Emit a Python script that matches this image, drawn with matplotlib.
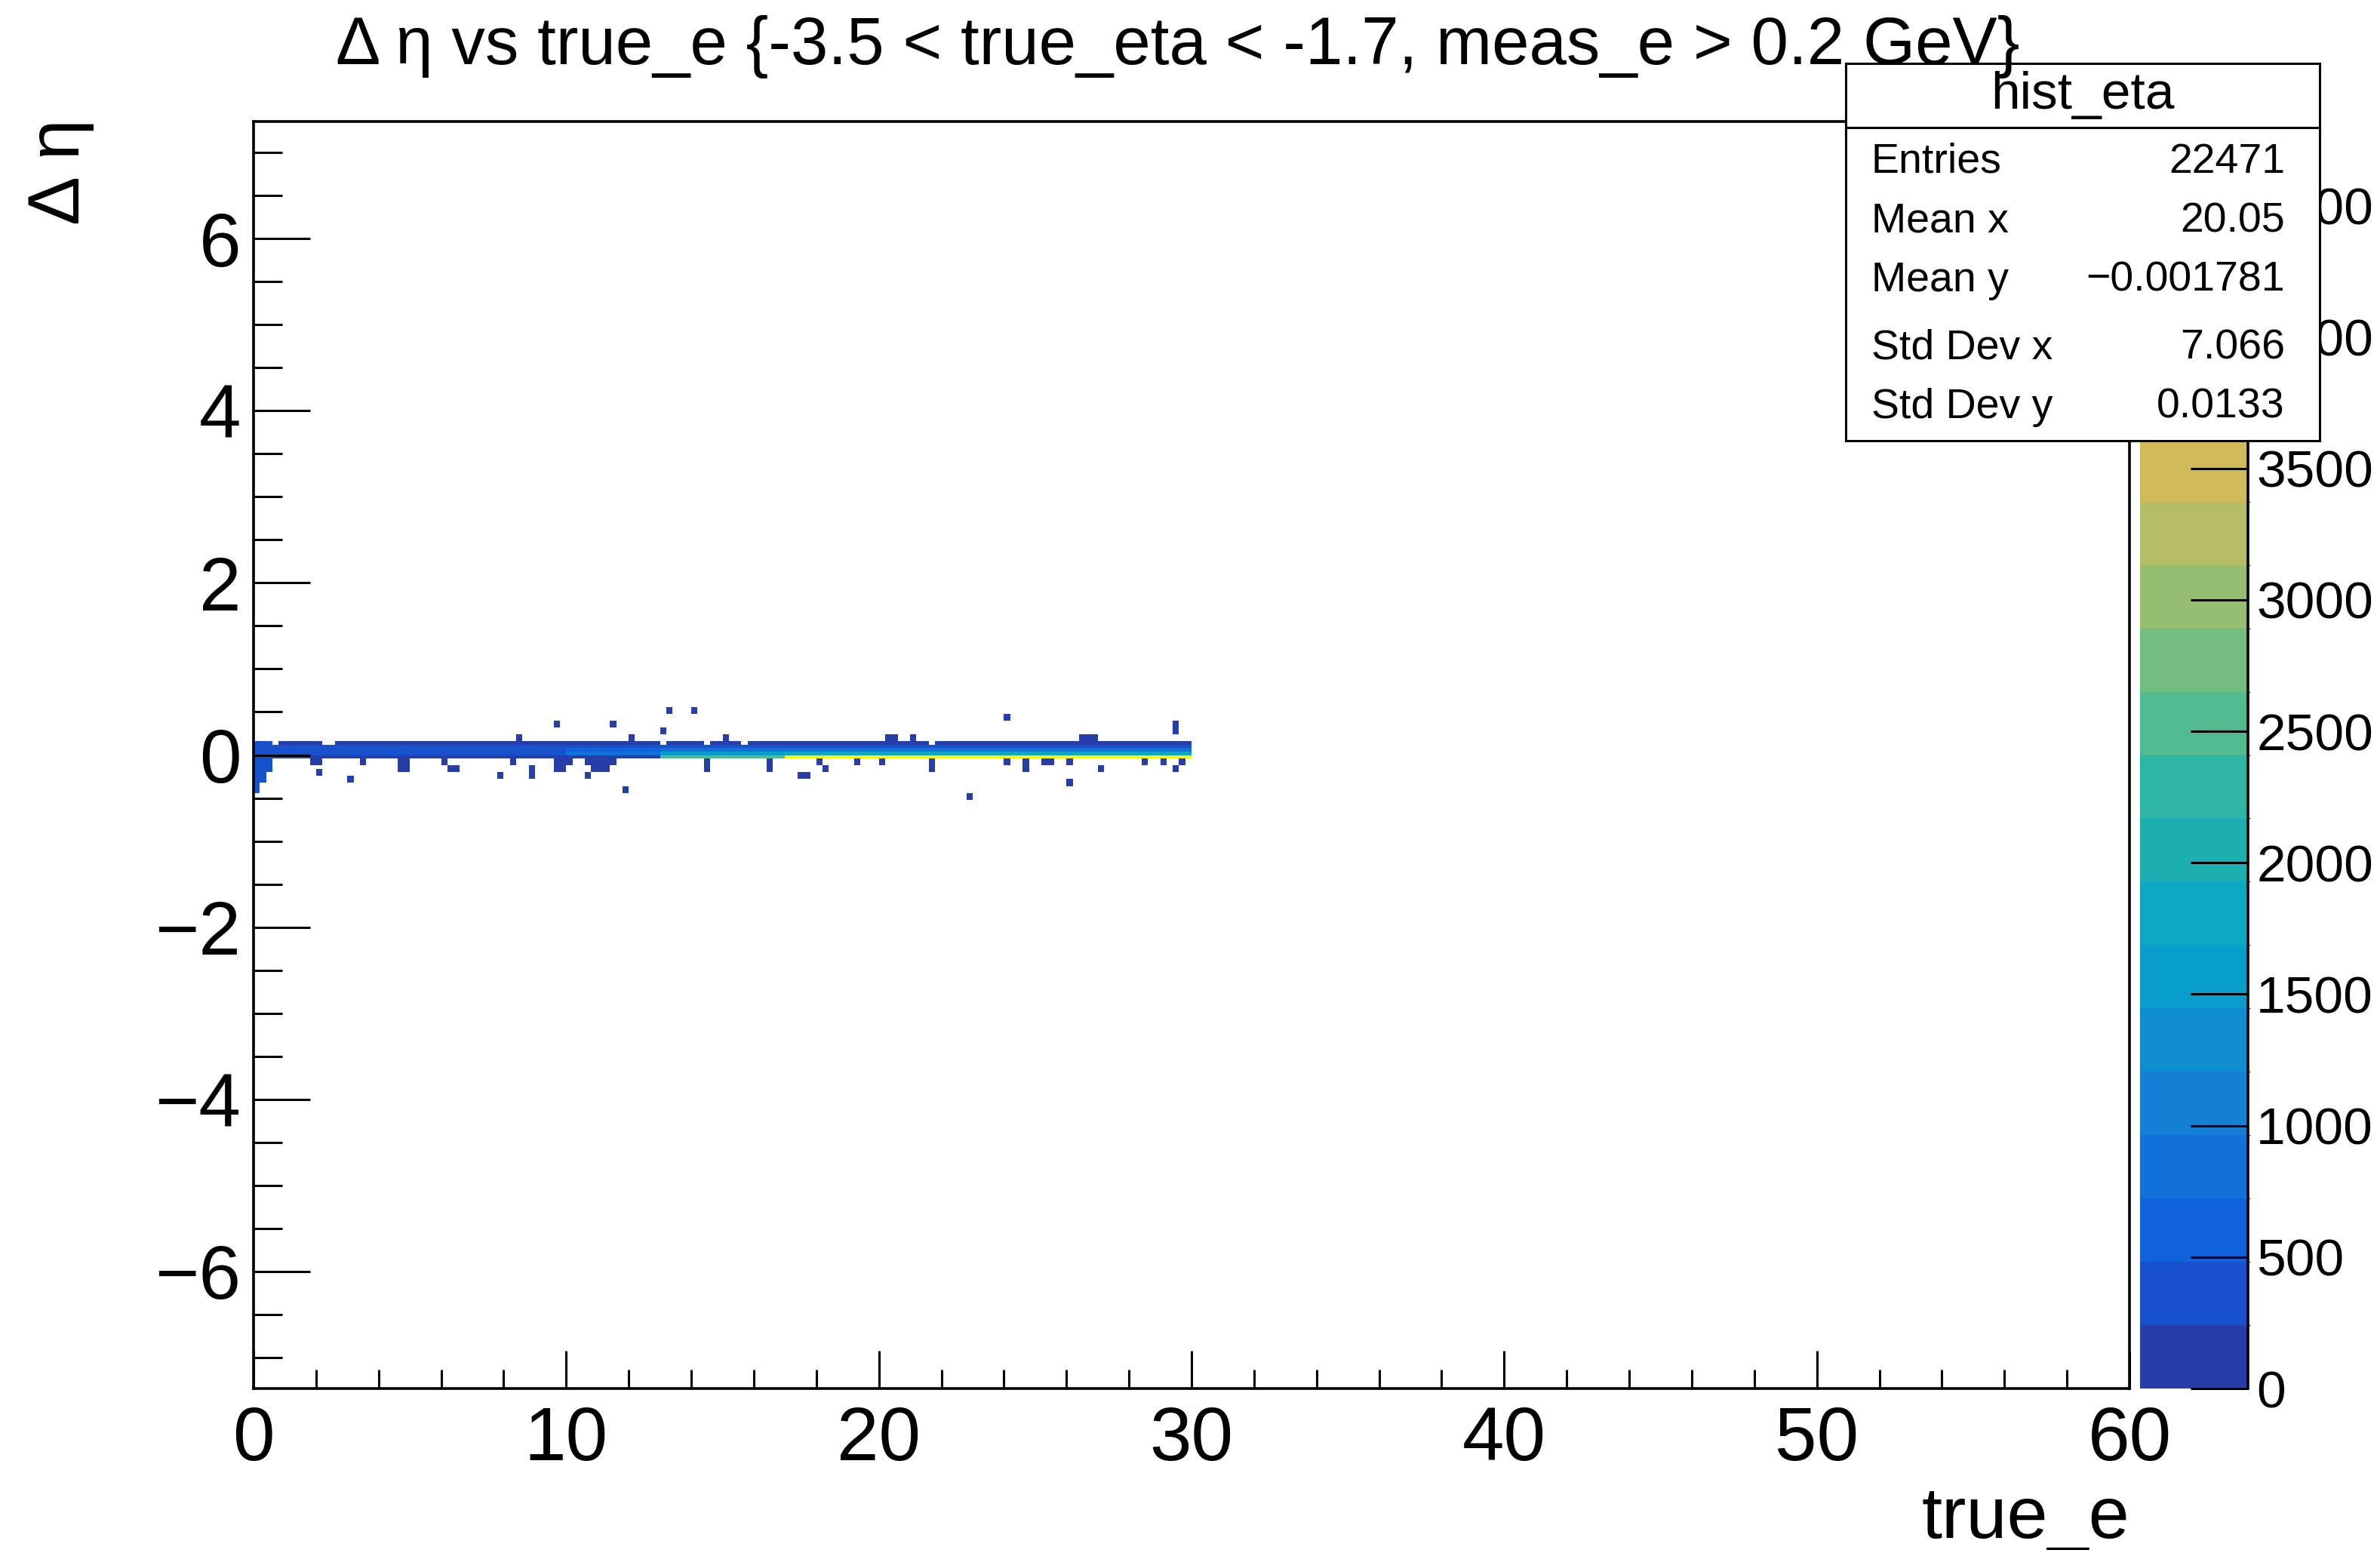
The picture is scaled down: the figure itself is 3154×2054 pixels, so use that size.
import numpy as np
import matplotlib.pyplot as plt
from matplotlib.colors import LinearSegmentedColormap, ListedColormap, BoundaryNorm
from matplotlib.patches import Rectangle
from matplotlib.lines import Line2D

plt.rcParams['font.family'] = ['Liberation Sans', 'DejaVu Sans']

# ROOT kBird palette
bird_stops = [0.0, 0.125, 0.25, 0.375, 0.5, 0.625, 0.75, 0.875, 1.0]
bird_red = [0.2082, 0.0592, 0.0780, 0.0232, 0.1802, 0.5301, 0.8186, 0.9956, 0.9764]
bird_green = [0.1664, 0.3599, 0.5041, 0.6419, 0.7178, 0.7492, 0.7328, 0.7862, 0.9832]
bird_blue = [0.5293, 0.8684, 0.8385, 0.7914, 0.6425, 0.4662, 0.3499, 0.1968, 0.0539]

# binning of hist_eta
x_lo, x_hi, x_bin = 0.0, 60.0, 0.2
y_lo, y_hi, y_bin = -7.36, 7.36, 0.04
z_max = 4820
n_levels = 20

# main band: true_e segments, counts per delta-eta row (row lower edges)
band_x_edges = [0.6, 10.0, 13.0, 17.0, 30.0]
band_row_lo = [-0.04, 0.0, 0.04, 0.08, 0.12]
band_counts = [
    [150, 350, 350, 260, 110],
    [200, 900, 600, 300, 110],
    [2600, 1600, 800, 320, 110],
    [4800, 1800, 850, 330, 110],
]
# top-row bins missing along the band
band_gaps = [0.7, 2.3, 2.5, 13.1, 14.5, 15.7, 21.7]

# lowest true_e bins leaking to negative delta eta
edge_x = [0.1, 0.3, 0.5]
edge_y_lo = [-0.44, -0.32, -0.20]
edge_y_hi = [0.16, 0.16, 0.16]
edge_n = [300, 320, 300]

# isolated cells (true_e, delta eta, entries)
out_x = [9.7, 11.5, 13.3, 14.1, 13.1, 8.5, 12.1,
         1.9, 2.1, 2.1, 3.1, 3.5, 4.7, 4.9, 4.7, 4.9, 6.1, 6.3, 6.5, 7.9, 8.3,
         8.9, 8.9, 9.7, 9.9, 10.1, 9.7, 9.9, 10.7, 10.7, 10.9, 11.1, 11.3, 11.5,
         10.9, 11.1, 11.3, 11.9,
         15.1, 20.3, 20.5, 21.1, 24.1, 26.5, 26.7, 26.9, 29.5, 29.5,
         14.5, 14.5, 16.5, 16.5, 17.5, 17.7, 18.1, 18.3, 19.3, 20.1, 21.7, 21.7,
         22.9, 24.1, 24.7, 24.7, 25.3, 25.5, 26.1, 26.1, 27.1, 28.5, 29.1, 29.5,
         29.7]
out_y = [0.36, 0.36, 0.52, 0.52, 0.28, 0.20, 0.20,
         -0.08, -0.08, -0.20, -0.28, -0.08, -0.08, -0.08, -0.16, -0.16, -0.08,
         -0.16, -0.16, -0.24, -0.08,
         -0.16, -0.24, -0.08, -0.08, -0.08, -0.16, -0.16, -0.24, -0.08, -0.08,
         -0.08, -0.08, -0.08,
         -0.16, -0.16, -0.16, -0.40,
         0.20, 0.20, 0.20, 0.20, 0.44, 0.20, 0.20, 0.20, 0.28, 0.36,
         -0.08, -0.16, -0.08, -0.16, -0.24, -0.24, -0.08, -0.16, -0.08, -0.08,
         -0.08, -0.16,
         -0.48, -0.08, -0.08, -0.16, -0.08, -0.08, -0.08, -0.32, -0.16, -0.08,
         -0.08, -0.16, -0.08]
out_n = [40] * len(out_x)

stat_names = ['Entries', 'Mean x', 'Mean y', 'Std Dev x', 'Std Dev y']
stat_values = ['22471', '20.05', '\u22120.001781', '7.066', '0.0133']

title = '\u0394 \u03b7 vs true_e {-3.5 < true_eta < -1.7, meas_e > 0.2 GeV}'

# ---- fill entries
xs, ys, ws = [], [], []
for i in range(len(band_counts)):
    for xc in np.arange(band_x_edges[i] + x_bin / 2, band_x_edges[i + 1], x_bin):
        for j, ylo in enumerate(band_row_lo):
            if j == len(band_row_lo) - 1 and np.any(np.isclose(xc, band_gaps)):
                continue
            xs.append(xc)
            ys.append(ylo + y_bin / 2)
            ws.append(band_counts[i][j])
for xc, ya, yb, n in zip(edge_x, edge_y_lo, edge_y_hi, edge_n):
    for yc in np.arange(ya + y_bin / 2, yb, y_bin):
        xs.append(xc)
        ys.append(yc)
        ws.append(n)
for xc, yc, n in zip(out_x, out_y, out_n):
    for yy in (yc - y_bin / 2, yc + y_bin / 2):
        xs.append(xc)
        ys.append(yy)
        ws.append(n)

x_edges = np.linspace(x_lo, x_hi, int(round((x_hi - x_lo) / x_bin)) + 1)
y_edges = np.linspace(y_lo, y_hi, int(round((y_hi - y_lo) / y_bin)) + 1)

bird = LinearSegmentedColormap.from_list(
    'bird', list(zip(bird_stops, zip(bird_red, bird_green, bird_blue))), N=255)
lev_cols = [bird(int((i + 0.99) * 255 / n_levels) / 254) for i in range(n_levels)]
cmap = ListedColormap(lev_cols)
norm = BoundaryNorm(np.linspace(0, z_max, n_levels + 1), n_levels)

W, H = 3154, 2054
fig = plt.figure(figsize=(W / 100, H / 100), dpi=100)
ax = fig.add_axes([336 / W, 1 - 1840 / H, (2822 - 336) / W, (1840 - 161) / H])
hh = ax.hist2d(xs, ys, bins=[x_edges, y_edges], weights=ws, cmap=cmap,
               norm=norm, cmin=1)

ax.set_xlim(x_lo, x_hi)
ax.set_ylim(y_lo, y_hi)
ax.set_xticks(np.arange(0, 61, 10))
ax.set_xticks(np.arange(0, 61, 2), minor=True)
ax.set_yticks(np.arange(-6, 7, 2))
ax.set_yticks(np.arange(-7, 7.01, 0.5), minor=True)
ax.tick_params(axis='x', which='major', direction='in', length=36, width=2.2,
               labelsize=72, pad=16)
ax.tick_params(axis='x', which='minor', direction='in', length=18, width=2.2)
ax.tick_params(axis='y', which='major', direction='in', length=54, width=2.2,
               labelsize=72, pad=12)
ax.tick_params(axis='y', which='minor', direction='in', length=27, width=2.2)
for s in ax.spines.values():
    s.set_linewidth(2.6)

# palette
cax = fig.add_axes([2836 / W, 1 - 1840 / H, (2979 - 2836) / W, (1840 - 161) / H])
cb = fig.colorbar(hh[3], cax=cax, ticks=np.arange(0, 4501, 500))
cb.outline.set_visible(False)
cax.tick_params(direction='in', length=55, width=2.2, labelsize=50, pad=8)
cax.add_line(Line2D([1, 1], [0, 1], transform=cax.transAxes, color='black',
                    lw=2.6, clip_on=False))

# titles
fig.text(0.495, 1 - 85 / H, title, ha='center', va='baseline', fontsize=64,
         zorder=10)
fig.text(2822 / W, 16 / H, 'true_e', ha='right', va='baseline', fontsize=70)
fig.text(80 / W, 1 - 157 / H, '\u0394 \u03b7', rotation=90, ha='center',
         va='top', fontsize=70)

# stats box
bx0, bx1, by0, by1, bsep = 2446, 3074, 84, 584, 169
fig.add_artist(Rectangle((bx0 / W, 1 - by1 / H), (bx1 - bx0) / W, (by1 - by0) / H,
                         transform=fig.transFigure, facecolor='white',
                         edgecolor='black', lw=2.2, zorder=5))
fig.add_artist(Line2D([bx0 / W, bx1 / W], [1 - bsep / H, 1 - bsep / H],
                      transform=fig.transFigure, color='black', lw=2.2, zorder=6))
fig.text((bx0 + bx1) / 2 / W, 1 - (by0 + bsep) / 2 / H, 'hist_eta', ha='center',
         va='center', fontsize=50, zorder=7)
row_y = [215, 294, 372, 462, 540]
for name, val, ry in zip(stat_names, stat_values, row_y):
    fig.text(2480 / W, 1 - ry / H, name, ha='left', va='center', fontsize=40,
             zorder=7)
    fig.text(3028 / W, 1 - ry / H, val, ha='right', va='center', fontsize=40,
             zorder=7)

fig.savefig('out.png', dpi=100, facecolor='white')
